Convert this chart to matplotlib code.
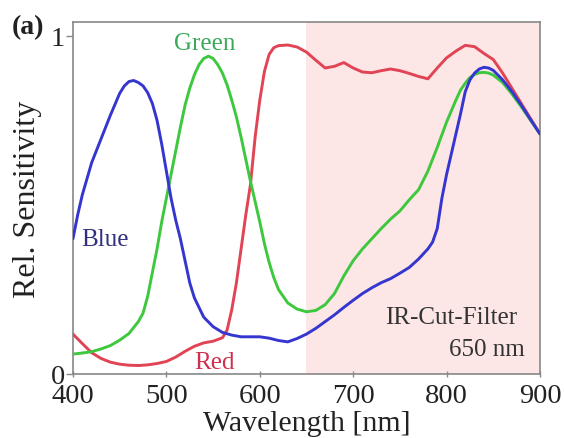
import matplotlib
matplotlib.use("Agg")
import matplotlib.pyplot as plt

blue_wl = [400, 405, 410, 420, 430, 440, 450, 455, 460, 465, 470, 475, 480, 485,
           490, 495, 500, 505, 510, 515, 520, 525, 530, 540, 550, 560, 570, 580,
           590, 600, 610, 620, 630, 640, 650, 660, 670, 680, 690, 700, 710, 720,
           730, 740, 750, 760, 770, 780, 785, 790, 795, 800, 805, 810, 815, 820,
           825, 830, 835, 840, 845, 850, 860, 870, 880, 890, 900]
blue = [0.40, 0.47, 0.53, 0.625, 0.695, 0.765, 0.83, 0.852, 0.865, 0.868, 0.862,
        0.852, 0.832, 0.80, 0.75, 0.68, 0.60, 0.52, 0.455, 0.40, 0.335, 0.27,
        0.225, 0.168, 0.14, 0.123, 0.115, 0.11, 0.11, 0.11, 0.106, 0.099, 0.095,
        0.105, 0.118, 0.135, 0.155, 0.175, 0.197, 0.218, 0.238, 0.255, 0.27,
        0.282, 0.298, 0.315, 0.34, 0.37, 0.39, 0.43, 0.52, 0.59, 0.65, 0.71,
        0.77, 0.835, 0.87, 0.89, 0.902, 0.907, 0.905, 0.898, 0.87, 0.835, 0.795,
        0.752, 0.71]

green_wl = [400, 410, 420, 430, 440, 450, 460, 470, 475, 480, 485, 490, 495, 500,
            505, 510, 515, 520, 525, 530, 535, 540, 545, 550, 555, 560, 565, 570,
            575, 580, 585, 590, 595, 600, 605, 610, 615, 620, 630, 640, 650, 660,
            670, 680, 690, 700, 710, 720, 730, 740, 750, 760, 770, 780, 790, 800,
            810, 815, 820, 825, 830, 835, 840, 845, 850, 860, 870, 880, 890, 900]
green = [0.059, 0.062, 0.066, 0.074, 0.084, 0.10, 0.12, 0.155, 0.18, 0.23, 0.30,
         0.37, 0.45, 0.52, 0.59, 0.66, 0.73, 0.795, 0.845, 0.885, 0.915, 0.933,
         0.94, 0.933, 0.915, 0.89, 0.855, 0.81, 0.76, 0.70, 0.635, 0.57, 0.51,
         0.45, 0.385, 0.33, 0.285, 0.25, 0.21, 0.192, 0.184, 0.188, 0.205, 0.238,
         0.29, 0.335, 0.37, 0.40, 0.43, 0.458, 0.482, 0.515, 0.545, 0.60, 0.67,
         0.745, 0.81, 0.84, 0.86, 0.877, 0.886, 0.891, 0.892, 0.89, 0.884, 0.862,
         0.828, 0.79, 0.75, 0.71]

red_wl = [400, 410, 420, 430, 440, 450, 460, 470, 480, 490, 500, 510, 520, 530,
          540, 550, 560, 565, 570, 575, 580, 585, 590, 595, 600, 605, 610, 615,
          620, 630, 640, 650, 660, 670, 680, 690, 700, 710, 720, 730, 740, 750,
          760, 770, 780, 790, 800, 810, 820, 830, 840, 850, 860, 870, 880, 890, 900]
red = [0.118, 0.09, 0.063, 0.046, 0.035, 0.029, 0.026, 0.025, 0.027, 0.031, 0.037,
       0.05, 0.067, 0.082, 0.092, 0.097, 0.107, 0.13, 0.19, 0.27, 0.37, 0.47,
       0.56, 0.70, 0.81, 0.895, 0.945, 0.965, 0.971, 0.973, 0.967, 0.952, 0.928,
       0.905, 0.91, 0.921, 0.905, 0.893, 0.891, 0.897, 0.902, 0.897, 0.889, 0.88,
       0.873, 0.905, 0.935, 0.955, 0.972, 0.968, 0.948, 0.93, 0.89, 0.845, 0.80,
       0.755, 0.71]

xticks = [400, 500, 600, 700, 800, 900]
yticks = [0, 1]
ir_cut = 650

plt.rcParams['font.family'] = ['Liberation Serif', 'DejaVu Serif']

fig = plt.figure(figsize=(5.64, 4.39), dpi=100)
ax = fig.add_axes([0.1294, 0.1458, 0.828, 0.8018])

ax.axvspan(ir_cut, 900, color='#fde6e6', zorder=0, lw=0)

style = dict(lw=2.1, solid_joinstyle='round', solid_capstyle='round')
ax.plot(red_wl, red, color='#e04455', zorder=3, **style)
ax.plot(green_wl, green, color='#3ec83e', zorder=3, **style)
ax.plot(blue_wl, blue, color='#3535d0', zorder=4, **style)

ax.set_xlim(400, 900)
ax.set_ylim(0, 1.041)
ax.set_xticks(xticks)
ax.set_yticks(yticks)
ax.set_xticklabels([str(t) for t in xticks], fontsize=20.5, color='#222222')
ax.set_yticklabels([str(t) for t in yticks], fontsize=20.5, color='#222222')
ax.tick_params(axis='x', direction='inout', length=5, width=1, color='#888888', pad=4)
ax.tick_params(axis='y', direction='out', length=5, width=1, color='#888888', pad=1)
for s in ax.spines.values():
    s.set_color('#888888')
    s.set_linewidth(1.2)

ax.set_xlabel('Wavelength [nm]', fontsize=21.5, color='#222222', labelpad=1.5)
ax.set_ylabel('Rel. Sensitivity', fontsize=23, color='#222222', labelpad=-7)
ax.yaxis.set_label_coords(-0.066, 0.5)

ax.text(541, 1.012, 'Green', fontsize=18, color='#3caa5a', ha='center', va='top')
ax.text(409, 0.40, 'Blue', fontsize=18, color='#303080', ha='left', va='center')
ax.text(530, 0.035, 'Red', fontsize=18, color='#d03050', ha='left', va='center')
ax.text(876, 0.169, 'IR-Cut-Filter', fontsize=18, color='#333333', ha='right', va='center')
ax.text(884, 0.074, '650 nm', fontsize=18, color='#333333', ha='right', va='center')

fig.text(0.021, 0.936, '(a)', fontsize=20, fontweight='bold', color='#222222', ha='left', va='center')

fig.savefig('out.png', dpi=100)
